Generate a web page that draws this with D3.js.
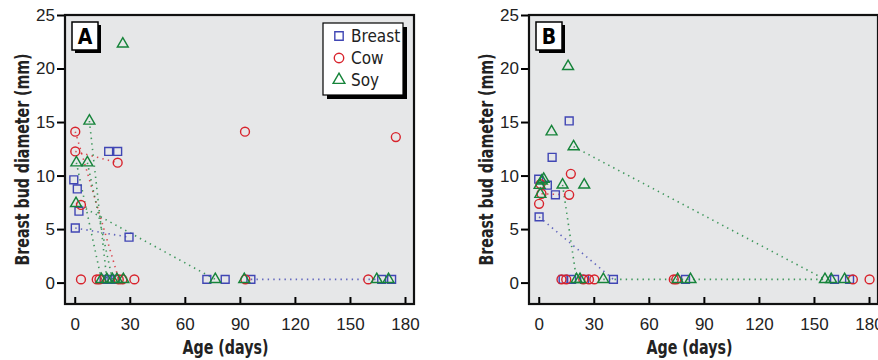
<!DOCTYPE html>
<html>
<head>
<meta charset="utf-8">
<script src="https://cdn.jsdelivr.net/npm/d3@7"></script>
<style>
  body { margin: 0; background: #fff; }
  svg { display: block; font-family: "Liberation Sans Narrow", "DejaVu Sans Condensed", "Arial Narrow", sans-serif; }
</style>
</head>
<body>
<div id="chart"></div>
<script>
// values: [age in days, bud diameter in mm]
const breastA = [[-0.5, 9.6], [1.4, 8.75], [2.3, 6.67], [0.3, 5.1], [18.5, 12.25], [23.4, 12.25], [29.6, 4.24],
    [16, 0.3], [19, 0.3], [22, 0.3], [72, 0.3], [82, 0.3], [96, 0.3], [167.3, 0.3], [172.7, 0.3]];
const cowA = [[0.3, 14.1], [0.3, 12.25], [23.4, 11.2], [3.4, 7.26], [92.8, 14.1], [175, 13.6],
    [3.4, 0.3], [12, 0.3], [13.5, 0.3], [24, 0.3], [26, 0.3], [32.5, 0.3], [93, 0.3], [160, 0.3]];
const soyA = [[26.2, 22.3], [8, 15.1], [0.9, 11.2], [6.9, 11.2], [0.7, 7.4],
    [14.5, 0.3], [17.5, 0.3], [20.5, 0.3], [23, 0.3], [26.5, 0.3], [76.6, 0.3], [92.4, 0.3], [164.6, 0.3], [171, 0.3]];

const breastB = [[0, 9.66], [4.7, 9.1], [7.3, 11.7], [9.1, 8.2], [16.6, 15.1], [0.2, 6.14],
    [13.3, 0.3], [17.9, 0.3], [25, 0.3], [40.7, 0.3], [80, 0.3], [161.2, 0.3], [169.4, 0.3]];
const cowB = [[0.2, 7.36], [17.5, 10.16], [16.6, 8.2], [1.5, 8.3], [1, 9.2],
    [12.4, 0.3], [15, 0.3], [24.3, 0.3], [27.4, 0.3], [30.3, 0.3], [73.6, 0.3], [75, 0.3], [171.2, 0.3], [180.3, 0.3]];
const soyB = [[16, 20.2], [7, 14.1], [19, 12.7], [13, 9.13], [24.8, 9.13], [2.7, 9.66], [0.5, 9.1], [0.9, 8.26], [1.7, 9.5],
    [20.6, 0.3], [22.5, 0.3], [35.2, 0.3], [75.7, 0.3], [82.7, 0.3], [156, 0.3], [159.4, 0.3], [166.7, 0.3]];

// follow-up visits of the same infant, joined by dotted lines
const linksA = [
    { group: "Cow", from: [0.3, 14.1], to: [24, 0.3] },
    { group: "Cow", from: [0.3, 12.25], to: [23.4, 11.2] },
    { group: "Soy", from: [8, 15.1], to: [17.5, 0.3] },
    { group: "Soy", from: [0.9, 11.2], to: [14.5, 0.3] },
    { group: "Soy", from: [6.9, 11.2], to: [20.5, 0.3] },
    { group: "Soy", from: [0.7, 7.4], to: [76.6, 0.3] },
    { group: "Breast", from: [0.3, 5.1], to: [29.6, 4.24] },
    { group: "Breast", from: [96, 0.3], to: [167.3, 0.3] }
];
const linksB = [
    { group: "Soy", from: [19, 12.7], to: [156, 0.3] },
    { group: "Soy", from: [13, 9.13], to: [20.6, 0.3] },
    { group: "Soy", from: [35.2, 0.3], to: [156, 0.3] },
    { group: "Breast", from: [0.2, 6.14], to: [40.7, 0.3] },
    { group: "Cow", from: [1.5, 8.3], to: [16.6, 8.2] }
];

const groups = ["Breast", "Cow", "Soy"];
const xTicks = [0, 30, 60, 90, 120, 150, 180];
const yTicks = [0, 5, 10, 15, 20, 25];

const colors = { Breast: "#4046b4", Cow: "#d8232c", Soy: "#16843a" };
const symbols = { Breast: d3.symbolSquare, Cow: d3.symbolCircle, Soy: d3.symbolTriangle };
const sizes = { Breast: 62, Cow: 62, Soy: 52 };

const svg = d3.select("#chart").append("svg")
    .attr("width", 878)
    .attr("height", 360);

function drawPanel(offsetX, label, series, links, withLegend) {
    const left = 65 + offsetX, right = 414 + offsetX, top = 15, bottom = 304;

    const x = d3.scaleLinear().domain([-5.3, 184.9]).range([left, right]);
    const y = d3.scaleLinear().domain([-2, 25]).range([bottom, top]);

    const g = svg.append("g");

    g.append("rect")
        .attr("x", left).attr("y", top)
        .attr("width", right - left).attr("height", bottom - top)
        .attr("fill", "#e6e7e8");

    // y axis, ticks outward
    g.append("g")
        .attr("transform", `translate(${left},0)`)
        .call(d3.axisLeft(y).tickValues(yTicks).tickSize(8).tickPadding(2))
        .call(a => a.select(".domain").remove())
        .call(a => a.selectAll("line").attr("stroke", "#000").attr("stroke-width", 2))
        .call(a => a.selectAll("text").attr("font-size", 17).attr("fill", "#222").attr("font-family", null));

    // x axis, ticks inward
    g.append("g")
        .attr("transform", `translate(0,${bottom})`)
        .call(d3.axisBottom(x).tickValues(xTicks).tickSizeInner(-7).tickSizeOuter(0).tickPadding(14))
        .call(a => a.select(".domain").remove())
        .call(a => a.selectAll("line").attr("stroke", "#000").attr("stroke-width", 2))
        .call(a => a.selectAll("text").attr("font-size", 17).attr("fill", "#222").attr("font-family", null));

    g.append("rect")
        .attr("x", left).attr("y", top)
        .attr("width", right - left).attr("height", bottom - top)
        .attr("fill", "none").attr("stroke", "#111").attr("stroke-width", 2.2);

    // dotted follow-up lines
    g.selectAll(".link")
        .data(links)
        .enter()
        .append("line")
        .attr("class", "link")
        .attr("x1", d => x(d.from[0])).attr("y1", d => y(d.from[1]))
        .attr("x2", d => x(d.to[0])).attr("y2", d => y(d.to[1]))
        .attr("stroke", d => colors[d.group])
        .attr("stroke-width", 1.6)
        .attr("stroke-dasharray", "1.4,4.2")
        .attr("opacity", 0.8);

    groups.forEach(name => {
        g.selectAll(".pt-" + name)
            .data(series[name])
            .enter()
            .append("path")
            .attr("class", "pt-" + name)
            .attr("transform", d => `translate(${x(d[0])},${y(d[1])})`)
            .attr("d", d3.symbol().type(symbols[name]).size(sizes[name]))
            .attr("fill", "none")
            .attr("stroke", colors[name])
            .attr("stroke-width", 1.4);
    });

    // panel letter with shadow box
    g.append("rect").attr("x", left + 10).attr("y", top + 10).attr("width", 26).attr("height", 28).attr("fill", "#000");
    g.append("rect").attr("x", left + 7).attr("y", top + 7).attr("width", 26).attr("height", 28)
        .attr("fill", "#fff").attr("stroke", "#000").attr("stroke-width", 1.5);
    g.append("text")
        .attr("x", left + 20).attr("y", top + 29)
        .attr("text-anchor", "middle")
        .attr("font-size", 21).attr("font-weight", "bold")
        .text(label);

    if (withLegend) {
        const lx = left + 258, ly = top + 8;
        g.append("rect").attr("x", lx + 4).attr("y", ly + 4).attr("width", 80).attr("height", 72).attr("fill", "#000");
        g.append("rect").attr("x", lx).attr("y", ly).attr("width", 80).attr("height", 72)
            .attr("fill", "#fff").attr("stroke", "#000").attr("stroke-width", 1.2);
        groups.forEach((name, i) => {
            g.append("path")
                .attr("transform", `translate(${lx + 16},${ly + 13 + i * 22})`)
                .attr("d", d3.symbol().type(symbols[name]).size(sizes[name] + 8))
                .attr("fill", "none")
                .attr("stroke", colors[name])
                .attr("stroke-width", 1.4);
            g.append("text")
                .attr("x", lx + 28).attr("y", ly + 19 + i * 22)
                .attr("font-size", 17).attr("fill", "#222")
                .text(name);
        });
    }

    // axis titles
    g.append("text")
        .attr("transform", `translate(${offsetX + 29},${(top + bottom) / 2}) rotate(-90)`)
        .attr("text-anchor", "middle")
        .attr("font-size", 20).attr("font-weight", "bold").attr("fill", "#222")
        .attr("textLength", 212).attr("lengthAdjust", "spacingAndGlyphs")
        .text("Breast bud diameter (mm)");

    g.append("text")
        .attr("x", (left + right) / 2 - 14).attr("y", 354)
        .attr("text-anchor", "middle")
        .attr("font-size", 20).attr("font-weight", "bold").attr("fill", "#222")
        .attr("textLength", 86).attr("lengthAdjust", "spacingAndGlyphs")
        .text("Age (days)");
}

drawPanel(0, "A", { Breast: breastA, Cow: cowA, Soy: soyA }, linksA, true);
drawPanel(464, "B", { Breast: breastB, Cow: cowB, Soy: soyB }, linksB, false);
</script>
</body>
</html>
